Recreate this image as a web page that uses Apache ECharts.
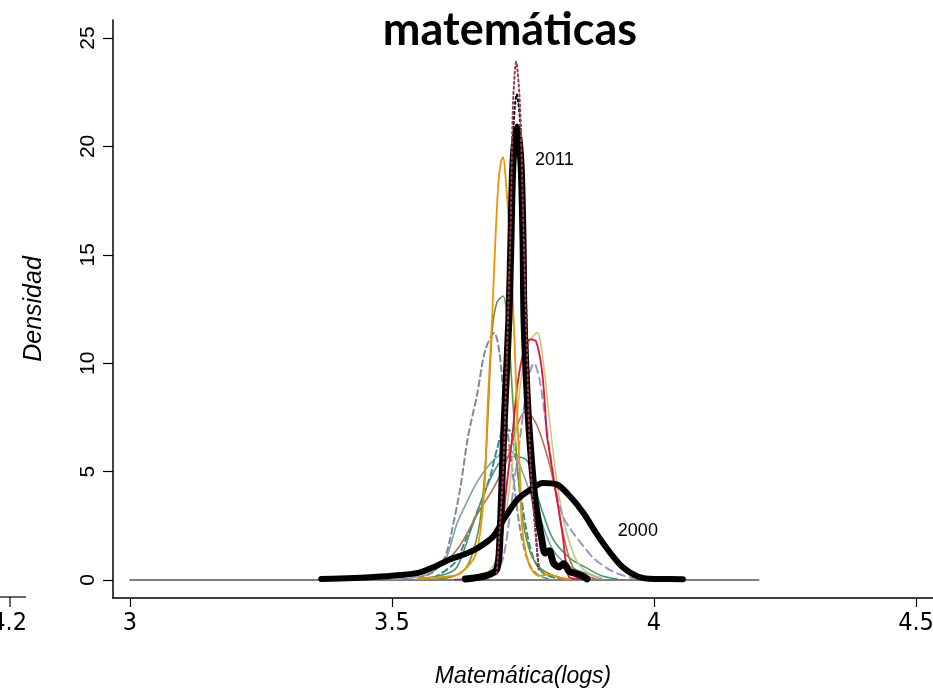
<!DOCTYPE html>
<html>
<head>
<meta charset="utf-8">
<script src="https://cdn.jsdelivr.net/npm/echarts@6/dist/echarts.min.js"></script>
<style>
html,body{margin:0;padding:0;background:#fff;}
#c{width:933px;height:688px;}
</style>
</head>
<body>
<div id="c"></div>
<script>
// ---- tick labels ----
const xTicks = [3, 3.5, 4, 4.5];
const yTicks = [0, 5, 10, 15, 20, 25];

// ---- series values (x in logs, y density) ----
const xTail = [3.0, 3.3, 3.6, 3.9, 4.2];
const yTail = [0, 0, 0, 0, 0];

const x2000 = [3.365, 3.40, 3.45, 3.50, 3.55, 3.58, 3.61, 3.64, 3.662, 3.693, 3.712, 3.739, 3.763, 3.788, 3.815, 3.84, 3.865, 3.89, 3.915, 3.94, 3.97, 4.00, 4.03, 4.055];
const y2000 = [0.05, 0.07, 0.12, 0.2, 0.33, 0.6, 0.95, 1.2, 1.45, 2.0, 2.75, 3.7, 4.15, 4.47, 4.4, 3.85, 3.1, 2.15, 1.3, 0.6, 0.15, 0.05, 0.05, 0.04];

const x2011 = [3.64, 3.68, 3.700, 3.706, 3.712, 3.716, 3.723, 3.727, 3.731, 3.7385, 3.746, 3.750, 3.752, 3.758, 3.763, 3.773, 3.786, 3.792, 3.800, 3.808, 3.818, 3.828, 3.838, 3.850, 3.862, 3.872];
const y2011 = [0.05, 0.2, 0.5, 2.0, 6.0, 8.3, 12.0, 15.7, 19.3, 20.9, 19.3, 15.7, 12.0, 8.5, 6.5, 3.7, 1.85, 1.25, 1.35, 0.8, 0.6, 0.75, 0.4, 0.3, 0.2, 0.05];

const xDotRed = [3.70, 3.712, 3.72, 3.727, 3.731, 3.737, 3.744, 3.750, 3.757, 3.765, 3.78];
const yDotRed = [0.3, 5, 11, 17, 22, 23.9, 22, 17, 11, 5, 0.5];
const xDotBlk = [3.70, 3.712, 3.72, 3.727, 3.732, 3.738, 3.745, 3.751, 3.758, 3.766, 3.78];
const yDotBlk = [0.3, 5, 11, 17, 21, 22.4, 21, 17, 11, 5, 0.5];

const xOrange = [3.55, 3.60, 3.63, 3.66, 3.674, 3.679, 3.683, 3.690, 3.697, 3.703, 3.708, 3.712, 3.717, 3.725, 3.733, 3.740, 3.744, 3.748, 3.756, 3.766, 3.78, 3.80, 3.82, 3.84];
const yOrange = [0.05, 0.15, 0.3, 1.2, 3.5, 5.5, 8.3, 11.5, 15.5, 18.3, 19.3, 19.5, 18.5, 15.7, 11.5, 7.0, 5.0, 2.5, 1.2, 0.5, 0.2, 0.25, 0.1, 0.03];

const xGreen = [3.58, 3.62, 3.645, 3.665, 3.675, 3.681, 3.691, 3.700, 3.712, 3.722, 3.73, 3.74, 3.75, 3.765, 3.785, 3.81, 3.84];
const yGreen = [0.03, 0.2, 0.7, 2.3, 4.3, 6.5, 11.4, 12.8, 13.1, 11.5, 8.5, 5.0, 2.7, 1.2, 0.5, 0.2, 0.03];

const xSlateDash = [3.55, 3.58, 3.60, 3.61, 3.63, 3.645, 3.662, 3.678, 3.695, 3.705, 3.715, 3.73, 3.744, 3.755, 3.765, 3.78, 3.80];
const ySlateDash = [0.05, 0.4, 1.0, 1.8, 4.2, 6.6, 8.5, 10.6, 11.4, 10.5, 8.0, 5.0, 2.4, 1.2, 0.6, 0.2, 0.05];

const xRed = [3.62, 3.66, 3.685, 3.700, 3.708, 3.716, 3.729, 3.740, 3.752, 3.763, 3.775, 3.787, 3.796, 3.80, 3.813, 3.826, 3.833, 3.84, 3.87];
const yRed = [0.02, 0.1, 0.3, 0.7, 1.5, 3.7, 6.5, 9.1, 10.6, 11.1, 11.0, 9.5, 6.6, 6.0, 4.0, 2.0, 0.6, 0.1, 0.05];

const xOlive = [3.64, 3.68, 3.70, 3.72, 3.735, 3.745, 3.76, 3.777, 3.79, 3.80, 3.815, 3.83, 3.85, 3.87, 3.90];
const yOlive = [0.05, 0.3, 1.0, 3.5, 6.5, 9.0, 10.9, 11.4, 9.8, 7.5, 4.5, 2.5, 1.0, 0.4, 0.1];

const xLavDash = [3.64, 3.68, 3.70, 3.712, 3.725, 3.744, 3.754, 3.763, 3.771, 3.782, 3.795, 3.81, 3.825, 3.839, 3.864, 3.885, 3.91, 3.93, 3.96];
const yLavDash = [0.05, 0.2, 0.5, 1.0, 3.0, 6.5, 8.3, 9.6, 10.0, 9.2, 7.0, 4.5, 3.0, 2.4, 1.6, 1.0, 0.55, 0.3, 0.08];

const xBrown = [3.52, 3.567, 3.60, 3.63, 3.662, 3.695, 3.72, 3.74, 3.754, 3.768, 3.782, 3.802, 3.815, 3.826, 3.845, 3.87, 3.89];
const yBrown = [0.1, 0.45, 0.8, 1.6, 3.0, 4.3, 5.6, 7.2, 7.75, 7.5, 6.8, 5.2, 3.7, 2.2, 0.6, 0.2, 0.05];

const xTeal = [3.55, 3.60, 3.624, 3.649, 3.665, 3.681, 3.697, 3.712, 3.735, 3.758, 3.77, 3.785, 3.807, 3.84, 3.872, 3.90, 3.93];
const yTeal = [0.05, 0.25, 0.6, 2.2, 3.3, 4.3, 5.1, 5.6, 5.7, 5.5, 4.5, 3.3, 1.9, 1.0, 0.55, 0.2, 0.05];

const xBlueGray = [3.50, 3.56, 3.59, 3.605, 3.624, 3.645, 3.662, 3.685, 3.706, 3.722, 3.738, 3.755, 3.77, 3.782, 3.807, 3.84, 3.872, 3.90];
const yBlueGray = [0.02, 0.2, 0.6, 1.1, 2.6, 3.7, 4.5, 5.3, 5.8, 6.0, 5.6, 4.6, 3.6, 2.9, 1.4, 0.6, 0.3, 0.05];

const xTealDash = [3.58, 3.62, 3.643, 3.665, 3.687, 3.70, 3.715, 3.728, 3.74, 3.755, 3.77, 3.79, 3.82];
const yTealDash = [0.1, 0.8, 2.0, 3.3, 4.75, 6.0, 7.0, 6.8, 5.0, 2.5, 1.0, 0.3, 0.05];

// ---- annotation text ----
const yearLabels = ['2011', '2000'];
const yearLabelPos = [[3.773, 19.37], [3.931, 2.26]];

function pairs(xs, ys) { return xs.map((x, i) => [x, ys[i]]); }

function line(data, color, width, type, z) {
  return {
    type: 'line', data: data, showSymbol: false, symbol: 'none',
    smooth: 0.3, z: z || 2, silent: true,
    lineStyle: { color: color, width: width, type: type || 'solid', join: 'round', cap: 'round' }
  };
}

const condensed = '"Liberation Sans Narrow", "DejaVu Sans Condensed", "Liberation Sans", sans-serif';

const chart = echarts.init(document.getElementById('c'), null, { renderer: 'canvas' });

const option = {
  animation: false,
  backgroundColor: '#ffffff',
  grid: { left: 113, right: 0, top: 20, bottom: 90, outerBoundsMode: 'none', containLabel: false },
  xAxis: {
    type: 'value', min: 2.9676, max: 4.5324,
    axisLine: { show: true, onZero: false, lineStyle: { color: '#000', width: 1.5 } },
    axisTick: { show: true, customValues: xTicks, length: 9, lineStyle: { color: '#000', width: 1.2 } },
    axisLabel: { customValues: xTicks, color: '#000', fontFamily: condensed, fontSize: 25, margin: 13 },
    splitLine: { show: false },
    name: 'Matemática(logs)', nameLocation: 'middle', nameGap: 67,
    nameTextStyle: { color: '#000', fontFamily: 'Liberation Sans', fontStyle: 'italic', fontSize: 23 }
  },
  yAxis: {
    type: 'value', min: -0.83, max: 25.83,
    axisLine: { show: true, onZero: false, lineStyle: { color: '#000', width: 1.5 } },
    axisTick: { show: true, customValues: yTicks, length: 10, lineStyle: { color: '#000', width: 1.2 } },
    axisLabel: { customValues: yTicks, rotate: 90, color: '#000', fontFamily: 'Liberation Sans', fontSize: 21, margin: 14 },
    splitLine: { show: false },
    name: 'Densidad', nameLocation: 'middle', nameRotate: 90, nameGap: 66,
    nameTextStyle: { color: '#000', fontFamily: 'Liberation Sans', fontStyle: 'italic', fontSize: 25 }
  },
  series: [
    line(pairs(xTail, yTail), '#555555', 1.5, 'solid', 1),
    line(pairs(xBlueGray, yBlueGray), '#7f9fb5', 1.6),
    line(pairs(xTeal, yTeal), '#3f9a7c', 1.6),
    line(pairs(xTealDash, yTealDash), '#3a8c8c', 2, [6, 4]),
    line(pairs(xBrown, yBrown), '#b07448', 1.6),
    line(pairs(xSlateDash, ySlateDash), '#7d8b95', 2, [6, 4]),
    line(pairs(xGreen, yGreen), '#5a9a3c', 1.6),
    line(pairs(xOlive, yOlive), '#c9c97a', 1.6),
    line(pairs(xLavDash, yLavDash), '#9c95cc', 2, [8, 5]),
    line(pairs(xRed, yRed), '#e0123c', 1.8),
    line(pairs(xOrange, yOrange), '#f39200', 1.8),
    line(pairs(x2000, y2000), '#000000', 6, 'solid', 5),
    line(pairs(x2011, y2011), '#000000', 7, 'solid', 6),
    line(pairs(xDotBlk, yDotBlk), '#000000', 2, [2, 3], 7),
    line(pairs(xDotRed, yDotRed), '#9b3a4a', 2, [2, 3], 8)
  ]
};
chart.setOption(option);

const texts = yearLabels.map((t, i) => {
  const p = chart.convertToPixel({ gridIndex: 0 }, yearLabelPos[i]);
  return { type: 'text', x: p[0], y: p[1], z: 20,
    style: { text: t, fill: '#000', font: '18px "Liberation Sans"', textAlign: 'left', textVerticalAlign: 'middle' } };
});

chart.setOption({
  graphic: texts.concat([
    { type: 'text', x: 510, y: 30, z: 20,
      style: { text: 'matemáticas', fill: '#000', font: 'bold 45px Lato', textAlign: 'center', textVerticalAlign: 'middle' } },
    { type: 'line', shape: { x1: 0, y1: 597, x2: 26, y2: 597 }, style: { stroke: '#000', lineWidth: 1.2 } },
    { type: 'line', shape: { x1: 10, y1: 597, x2: 10, y2: 607 }, style: { stroke: '#000', lineWidth: 1.2 } },
    { type: 'text', x: 27, y: 623,
      style: { text: '4.2', fill: '#000', font: '25px ' + condensed, textAlign: 'right', textVerticalAlign: 'middle' } }
  ])
});
</script>
</body>
</html>
